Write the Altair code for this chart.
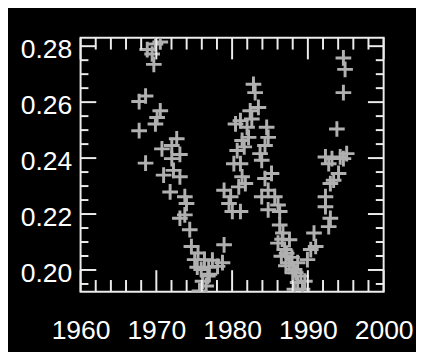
import altair as alt
import pandas as pd

years = [
    1968.80, 1969.88, 1970.52, 1969.45, 1969.67, 1968.58, 1967.73, 1970.52, 1970.10, 1969.88,
    1967.73, 1968.58, 1970.74, 1972.04, 1972.69, 1973.11, 1972.04, 1970.96, 1972.26, 1973.11,
    1971.82, 1973.76, 1973.98, 1973.11, 1973.76, 1974.41, 1974.63, 1975.50, 1975.06, 1976.35,
    1975.92, 1976.79, 1976.57, 1975.70, 1978.94, 1978.73, 1978.08, 1980.45, 1980.67, 1980.23,
    1978.94, 1979.81, 1980.03, 1979.59, 1982.82, 1983.04, 1983.47, 1982.39, 1981.10, 1981.97,
    1982.17, 1981.32, 1981.10, 1981.75, 1980.88, 1981.10, 1981.32, 1984.56, 1984.76, 1984.34,
    1983.69, 1983.91, 1985.20, 1984.34, 1983.91, 1984.76, 1985.63, 1986.06, 1984.76, 1986.28,
    1986.71, 1986.06, 1987.57, 1986.93, 1986.50, 1987.57, 1988.65, 1988.22, 1989.08, 1988.65,
    1988.22, 1989.29, 1989.94, 1991.03, 1990.81, 1990.38, 1992.32, 1992.97, 1992.75, 1992.32,
    1992.97, 1993.40, 1992.75, 1993.18, 1992.32, 1994.27, 1995.12, 1994.69, 1994.05, 1993.83,
    1994.69, 1994.91, 1994.69, 1986.28, 1987.10, 1988.00, 1976.10, 1977.00,
    1986.60, 1987.20, 1987.90, 1988.40, 1989.60, 1976.90, 1977.40, 1975.40, 1981.60, 1982.60,
]
values = [
    0.2788, 0.2808, 0.2815, 0.2772, 0.2735, 0.2622, 0.2602, 0.2569, 0.2545, 0.2522,
    0.2498, 0.2382, 0.2433, 0.2445, 0.2469, 0.2413, 0.2398, 0.2339, 0.2356, 0.2333,
    0.2279, 0.2262, 0.2238, 0.2185, 0.2197, 0.2144, 0.2084, 0.2061, 0.2037, 0.2037,
    0.2002, 0.1978, 0.1943, 0.1925, 0.2090, 0.2026, 0.2013, 0.2522, 0.2427, 0.2380,
    0.2285, 0.2262, 0.2209, 0.2238, 0.2664, 0.2634, 0.2581, 0.2569, 0.2534, 0.2510,
    0.2474, 0.2463, 0.2380, 0.2309, 0.2297, 0.2209, 0.2333, 0.2510, 0.2474, 0.2445,
    0.2416, 0.2392, 0.2345, 0.2327, 0.2262, 0.2285, 0.2262, 0.2232, 0.2215, 0.2209,
    0.2132, 0.2096, 0.2108, 0.2073, 0.2049, 0.2026, 0.2026, 0.2002, 0.1978, 0.1955,
    0.1931, 0.1931, 0.2037, 0.2084, 0.2132, 0.2073, 0.2226, 0.2185, 0.2155, 0.2262,
    0.2309, 0.2321, 0.2380, 0.2398, 0.2404, 0.2404, 0.2416, 0.2398, 0.2345, 0.2504,
    0.2634, 0.2717, 0.2758, 0.2161, 0.2015, 0.1990, 0.1960, 0.1985,
    0.2110, 0.2060, 0.2045, 0.1990, 0.1960, 0.2010, 0.2035, 0.2010, 0.2440, 0.2540,
]

x_major = [1960, 1970, 1980, 1990, 2000]
x_minor = [y for y in range(1962, 2000, 2) if y % 10 != 0]
y_major = [0.20, 0.22, 0.24, 0.26, 0.28]
y_minor = [0.195, 0.205, 0.21, 0.215, 0.225, 0.23, 0.235, 0.245, 0.25, 0.255, 0.265, 0.27, 0.275]

W, H = 309, 259
X_DOMAIN = [1960, 2000]
Y_DOMAIN = [0.1922, 0.2830]
FG = "#ececec"
PT = "#b0b0b0"
FONT = "Liberation Sans"

df = pd.DataFrame({"year": years, "value": values})
xs = alt.Scale(domain=X_DOMAIN, nice=False, zero=False)
ys = alt.Scale(domain=Y_DOMAIN, nice=False, zero=False)

points = alt.Chart(df).mark_point(
    shape="M-1,0L1,0M0,-1L0,1", filled=False, stroke=PT, strokeWidth=3,
    size=256, opacity=1, clip=True,
).encode(
    x=alt.X("year:Q", scale=xs, axis=alt.Axis(
        values=x_major, format="d", ticks=False, domain=False, grid=False,
        labelColor="white", labelFont=FONT, labelFontSize=27, labelPadding=27,
        title=None, labelFlush=False)),
    y=alt.Y("value:Q", scale=ys, axis=alt.Axis(
        values=y_major, format=".2f", ticks=False, domain=False, grid=False,
        labelColor="white", labelFont=FONT, labelFontSize=27, labelPadding=9,
        labelBaseline="middle", labelOffset=4, title=None)),
)

def xticks(vals, length):
    d = pd.DataFrame({"t": vals})
    base = alt.Chart(d).mark_rule(color=FG, strokeWidth=2)
    bottom = base.encode(x=alt.X("t:Q", scale=xs), y=alt.value(H), y2=alt.value(H - length))
    top = base.encode(x=alt.X("t:Q", scale=xs), y=alt.value(0), y2=alt.value(length))
    return [bottom, top]

def yticks(vals, length):
    d = pd.DataFrame({"t": vals})
    base = alt.Chart(d).mark_rule(color=FG, strokeWidth=2)
    left = base.encode(y=alt.Y("t:Q", scale=ys), x=alt.value(0), x2=alt.value(length))
    right = base.encode(y=alt.Y("t:Q", scale=ys), x=alt.value(W), x2=alt.value(W - length))
    return [left, right]

layers = xticks(x_major, 22) + xticks(x_minor, 12) + yticks(y_major, 16) + yticks(y_minor, 8)

chart = alt.layer(points, *layers).properties(
    width=W, height=H,
    autosize=alt.AutoSizeParams(type="none"),
    padding={"left": 74, "top": 27, "right": 33, "bottom": 58},
    background="black",
).configure_view(
    stroke=FG, strokeWidth=2,
)

chart.save("out.html", embed_options={"renderer": "svg", "actions": False})
